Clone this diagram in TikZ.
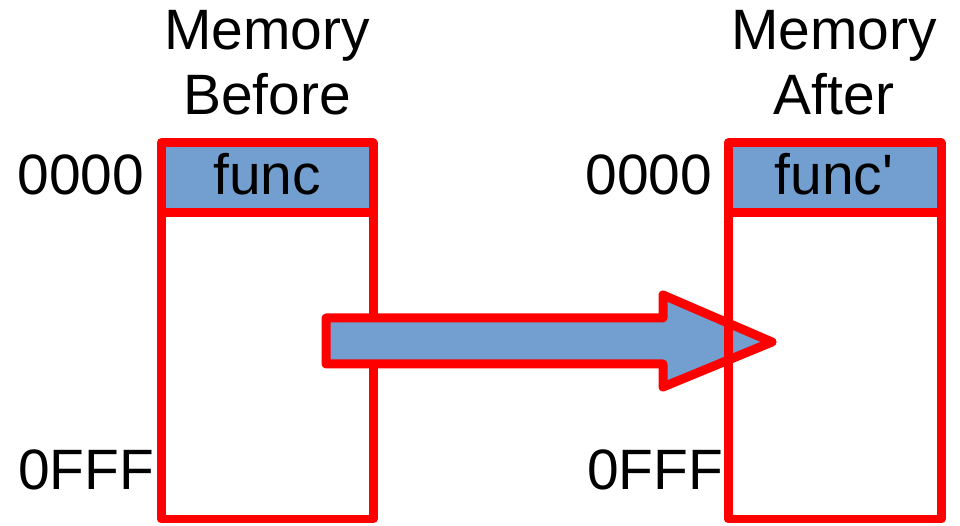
\documentclass[tikz,border=0pt]{standalone}
\usepackage{fontspec}
\setmainfont{Liberation Sans}
\usetikzlibrary{positioning}
\definecolor{cellblue}{HTML}{729FCF}
\definecolor{memred}{HTML}{FF0000}
\tikzset{
  memline/.style={draw=memred, line width=0.18cm, line join=round},
  lbl/.style={anchor=base, inner sep=0pt, font=\fontsize{32.4}{39}\selectfont}
}
\begin{document}
\begin{tikzpicture}[x=0.02cm, y=-0.02cm]
  \useasboundingbox (0,0) rectangle (960,526);
  % memory before
  \fill[white] (161,143) rectangle (373,519);
  \fill[cellblue] (161,143) rectangle (373,213);
  \draw[memline] (161,143) rectangle (373,519);
  \draw[memline] (161,213) -- (373,213);
  \node[lbl] (memA) at (267,50) {Memory};
  \node[lbl] (befA) at (267,115) {Before};
  \node[lbl] (funcA) at (267,195) {func};
  \node[lbl] (topA) at (81,195) {0000};
  \node[lbl] (endA) at (86,490) {0FFF};
  % block arrow
  \draw[memline, fill=cellblue] (326,318) -- (663,318) -- (663,295) -- (772,342)
    -- (663,387) -- (663,364) -- (326,364) -- cycle;
  % memory after (outline only, arrow shows through)
  \fill[cellblue] (728,143) rectangle (941,213);
  \draw[memline] (728,143) rectangle (941,519);
  \draw[memline] (728,213) -- (941,213);
  \node[lbl] (memB) at (834,50) {Memory};
  \node[lbl] (aftB) at (834,115) {After};
  \node[lbl] (funcB) at (834,195) {func\textquotesingle};
  \node[lbl] (topB) at (649,195) {0000};
  \node[lbl] (endB) at (655,490) {0FFF};
\end{tikzpicture}
\end{document}
